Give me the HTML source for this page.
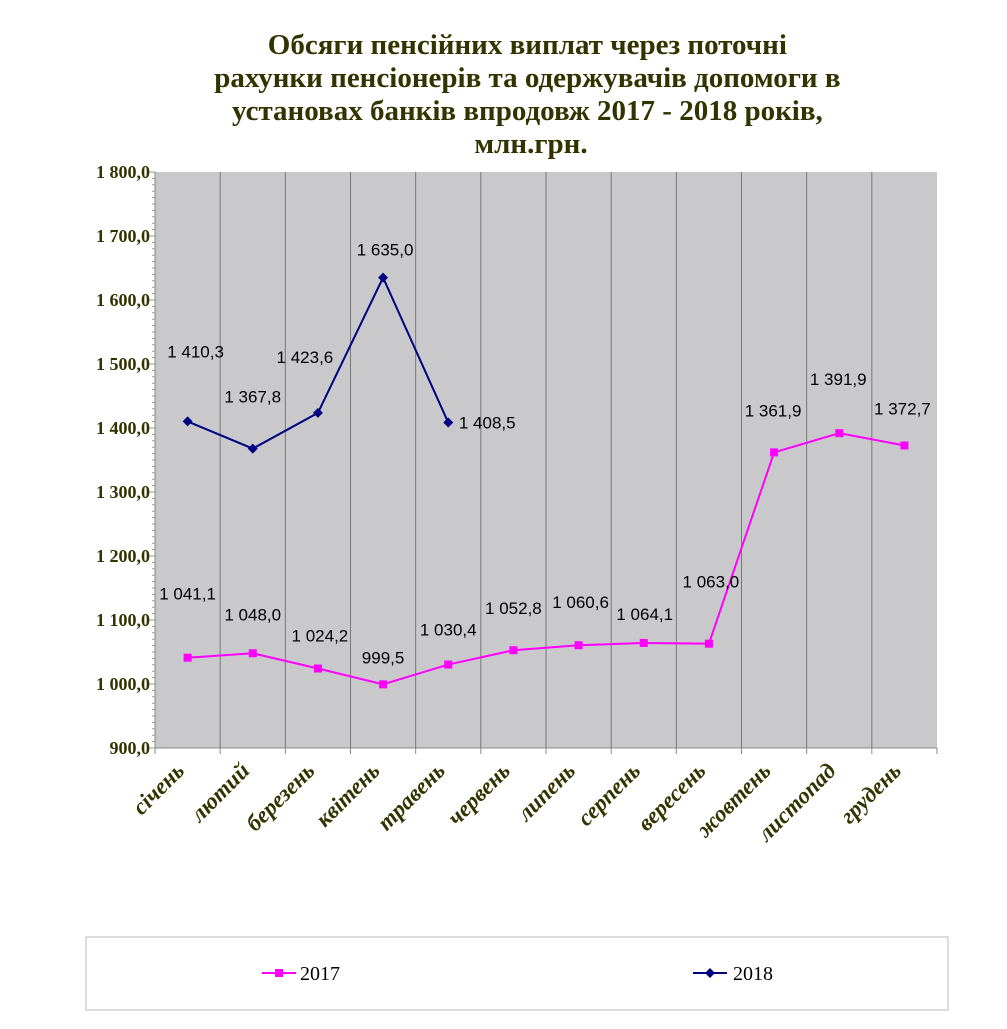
<!DOCTYPE html>
<html><head><meta charset="utf-8"><style>
body{margin:0;background:#fff;width:1007px;height:1024px;overflow:hidden}
</style></head><body>
<svg id="c" width="1007" height="1024" xmlns="http://www.w3.org/2000/svg">
<text x="531" y="52" text-anchor="middle" font-family="Liberation Serif, serif" font-weight="bold" font-size="29" fill="#333300">
<tspan x="531" y="54">Обсяги пенсійних виплат через поточні</tspan>
<tspan x="531" y="87">рахунки пенсіонерів та одержувачів допомоги в</tspan>
<tspan x="531" y="120">установах банків впродовж 2017 - 2018 років,</tspan>
<tspan x="531" y="153">млн.грн.</tspan></text>
<rect x="155" y="172" width="782" height="576" fill="#c9c9cc"/>
<g id="grid"></g><g id="axes"></g><g id="series"></g>
<rect x="86" y="937" width="862" height="73" fill="#fff" stroke="#bbb"/>
<g>
<line x1="262" y1="973" x2="296" y2="973" stroke="#ff00ff" stroke-width="2"/>
<rect x="275" y="969" width="8" height="8" fill="#ff00ff"/>
<text x="300" y="980" font-family="Liberation Serif, serif" font-size="20">2017</text></g>
<g>
<line x1="693" y1="973" x2="727" y2="973" stroke="#000080" stroke-width="2"/>
<polygon points="710,968 715,973 710,978 705,973" fill="#000080"/>
<text x="733" y="980" font-family="Liberation Serif, serif" font-size="20">2018</text></g>
</svg>
<script>
const categories=["січень","лютий","березень","квітень","травень","червень","липень","серпень","вересень","жовтень","листопад","грудень"];
const values2017=[1041.1,1048.0,1024.2,999.5,1030.4,1052.8,1060.6,1064.1,1063.0,1361.9,1391.9,1372.7];
const values2018=[1410.3,1367.8,1423.6,1635.0,1408.5];
const yTicks=[900,1000,1100,1200,1300,1400,1500,1600,1700,1800];
const off2017=[[0,-64],[0,-39],[2,-33],[0,-27],[0,-35],[0,-42],[2,-43],[1,-29],[2,-62],[-1,-42],[-1,-54],[-2,-37]];
const off2018=[[8,-70],[0,-52],[-13,-56],[2,-28],[39,0]];
const NS="http://www.w3.org/2000/svg";
const X0=155,X1=937,Y0=748,Y1=172,VMIN=900,VMAX=1800;
const bw=(X1-X0)/categories.length;
const xs=i=>X0+bw*(i+0.5);
const ys=v=>Y0-(v-VMIN)/(VMAX-VMIN)*(Y0-Y1);
function mk(t,a,p){const e=document.createElementNS(NS,t);for(const k in a)e.setAttribute(k,a[k]);p.appendChild(e);return e;}
const grid=document.getElementById('grid'),axes=document.getElementById('axes'),ser=document.getElementById('series');
for(let i=1;i<categories.length;i++){const l=mk('line',{x1:X0+bw*i,x2:X0+bw*i,y1:Y1,y2:Y0,stroke:'#777','stroke-width':1},grid);

}
mk('line',{x1:X0,x2:X0,y1:Y1,y2:Y0,stroke:'#888'},axes);
mk('line',{x1:X0,x2:X1,y1:Y0,y2:Y0,stroke:'#888'},axes);
for(let v=VMIN;v<=VMAX;v+=10){mk('line',{x1:X0-(v%100===0?6:3),x2:X0,y1:ys(v),y2:ys(v),stroke:'#999'},axes);}
yTicks.forEach(v=>{const t=mk('text',{x:150,y:ys(v)+6,'text-anchor':'end','font-family':'Liberation Serif, serif','font-weight':'bold','font-size':18,fill:'#333300'},axes);
t.textContent=(v>=1000?Math.floor(v/1000)+' '+String(v%1000).padStart(3,'0'):v)+',0';

});
for(let i=0;i<=categories.length;i++)mk('line',{x1:X0+bw*i,x2:X0+bw*i,y1:Y0,y2:Y0+6,stroke:'#888'},axes);
categories.forEach((c,i)=>{const x=xs(i)-2,y=772;const t=mk('text',{x:x,y:y,'text-anchor':'end',transform:`rotate(-45 ${x} ${y})`,'font-family':'Liberation Serif, serif','font-weight':'bold','font-style':'italic','font-size':23,fill:'#333300'},axes);
t.textContent=c;

});
function fmt(v){const s=v.toFixed(1).replace('.',',');return v>=1000?s[0]+' '+s.slice(1):s;}
function draw(vals,col,shape,offs,name){
const pl=mk('polyline',{points:vals.map((v,i)=>xs(i)+','+ys(v)).join(' '),fill:'none',stroke:col,'stroke-width':2},ser);


vals.forEach((v,i)=>{const x=xs(i),y=ys(v);let m;
if(shape==='sq')m=mk('rect',{x:x-4,y:y-4,width:8,height:8,fill:col},ser);
else m=mk('polygon',{points:`${x},${y-5} ${x+5},${y} ${x},${y+5} ${x-5},${y}`,fill:col},ser);


const t=mk('text',{x:x+offs[i][0],y:y+offs[i][1]+6,'text-anchor':'middle','font-family':'Liberation Sans, sans-serif','font-size':17,fill:'#000'},ser);
t.textContent=fmt(v);

});}
draw(values2017,'#ff00ff','sq',off2017,'2017');
draw(values2018,'#000080','dia',off2018,'2018');
</script>
</body></html>
